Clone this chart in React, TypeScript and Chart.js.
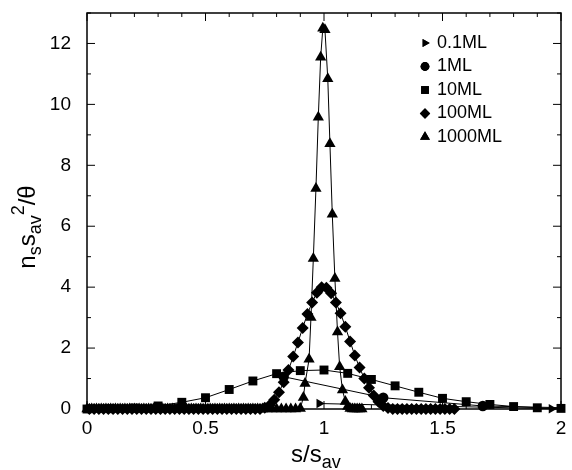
import React, { useEffect, useRef } from 'react';
import { Chart, registerables } from 'chart.js';
import type { Plugin } from 'chart.js';
import { drawPoint } from 'chart.js/helpers';

Chart.register(...registerables);

const FONT = "'Liberation Sans', Arial, Helvetica, sans-serif";

// series data (x = s/s_av, y = n_s s_av^2 / theta)
const seriesNames = ['0.1ML', '1ML', '10ML', '100ML', '1000ML'];

const x01 = [0.98, 1.96];
const y01 = [0.18, 0.01];

const x1 = [0.83, 1.25, 1.67, 2.08];
const y1 = [1.06, 0.37, 0.1, 0.03];

const x10 = [0, 0.1, 0.2, 0.3, 0.4, 0.5, 0.6, 0.7, 0.8, 0.9, 1.0, 1.1, 1.2, 1.3, 1.4, 1.5, 1.6, 1.7, 1.8, 1.9, 2.0];
const y10 = [0, 0.01, 0.03, 0.1, 0.22, 0.37, 0.64, 0.92, 1.16, 1.26, 1.28, 1.17, 0.97, 0.76, 0.55, 0.35, 0.24, 0.15, 0.08, 0.04, 0.02];

const x100 = [
  0.01, 0.03, 0.05, 0.07, 0.09, 0.11, 0.13, 0.15, 0.17, 0.19, 0.21, 0.23, 0.25, 0.27, 0.29, 0.31, 0.33, 0.35,
  0.37, 0.39, 0.41, 0.43, 0.45, 0.47, 0.49, 0.51, 0.53, 0.55, 0.57, 0.59, 0.61, 0.63, 0.65, 0.67, 0.69, 0.71, 0.73,
  0.75, 0.77, 0.79, 0.81, 0.83, 0.85, 0.87, 0.89, 0.91, 0.93, 0.95, 0.97, 0.99,
  1.01, 1.03, 1.05, 1.07, 1.09, 1.11, 1.13, 1.15, 1.17, 1.19, 1.21, 1.23, 1.25, 1.27,
  1.29, 1.31, 1.33, 1.35, 1.37, 1.39, 1.41, 1.43, 1.45, 1.47, 1.49, 1.51, 1.53, 1.55,
];
const y100 = [
  0, 0, 0, 0, 0, 0, 0, 0, 0, 0, 0, 0, 0, 0, 0, 0, 0, 0,
  0, 0, 0, 0, 0, 0, 0, 0, 0, 0, 0, 0, 0, 0, 0, 0, 0, 0, 0,
  0.04, 0.12, 0.3, 0.55, 0.88, 1.28, 1.72, 2.18, 2.66, 3.12, 3.5, 3.82, 4.0,
  3.98, 3.8, 3.5, 3.14, 2.7, 2.22, 1.76, 1.36, 1.0, 0.7, 0.44, 0.24, 0.1, 0.03,
  0, 0, 0, 0, 0, 0, 0, 0, 0, 0, 0, 0, 0, 0,
];

const x1000 = [
  0, 0.02, 0.04, 0.06, 0.08, 0.1, 0.12, 0.14, 0.16, 0.18, 0.2, 0.22, 0.24, 0.26, 0.28, 0.3, 0.32, 0.34, 0.36,
  0.38, 0.4, 0.42, 0.44, 0.46, 0.48, 0.5, 0.52, 0.54, 0.56, 0.58, 0.6, 0.62, 0.64, 0.66, 0.68, 0.7, 0.72,
  0.74, 0.76, 0.78, 0.8, 0.82, 0.84, 0.86, 0.88, 0.9,
  0.913, 0.92, 0.937, 0.945, 0.955, 0.966, 0.976, 0.986, 0.995, 1.004,
  1.016, 1.025, 1.035, 1.046, 1.057, 1.066, 1.078, 1.09, 1.1, 1.11,
  1.12, 1.13, 1.14, 1.15, 1.16,
];
const y1000 = [
  0, 0, 0, 0, 0, 0, 0, 0, 0, 0, 0, 0, 0, 0, 0, 0, 0, 0, 0,
  0, 0, 0, 0, 0, 0, 0, 0, 0, 0, 0, 0, 0, 0, 0, 0, 0, 0,
  0, 0, 0, 0, 0, 0, 0, 0, 0.02,
  0.38, 0.84, 1.63, 3.0, 4.94, 7.24, 9.58, 11.55, 12.5, 12.45,
  10.84, 8.71, 6.39, 4.28, 2.53, 1.39, 0.62, 0.25, 0.08, 0.02,
  0, 0, 0, 0, 0,
];

// axis ticks
const xMajor = [0, 0.5, 1, 1.5, 2];
const xMinor = [0.1, 0.2, 0.3, 0.4, 0.6, 0.7, 0.8, 0.9, 1.1, 1.2, 1.3, 1.4, 1.6, 1.7, 1.8, 1.9];
const yMajor = [0, 2, 4, 6, 8, 10, 12];
const yMinor = [1, 3, 5, 7, 9, 11, 13];

const markers = [
  { style: 'triangle', rotation: 90, radius: 5.5 },
  { style: 'circle', rotation: 0, radius: 5.2 },
  { style: 'rect', rotation: 0, radius: 6.3 },
  { style: 'rectRot', rotation: 0, radius: 6 },
  { style: 'triangle', rotation: 0, radius: 6.5 },
];

const pts = (xs: number[], ys: number[]) => xs.map((x, i) => ({ x, y: ys[i] }));

type Part = { t: string; size: number; dy: number };

const drawParts = (ctx: CanvasRenderingContext2D, parts: Part[], x: number, y: number, center: boolean) => {
  let total = 0;
  parts.forEach((p) => {
    ctx.font = `${p.size}px ${FONT}`;
    total += ctx.measureText(p.t).width;
  });
  let cx = center ? x - total / 2 : x;
  parts.forEach((p) => {
    ctx.font = `${p.size}px ${FONT}`;
    ctx.fillText(p.t, cx, y + p.dy);
    cx += ctx.measureText(p.t).width;
  });
};

const framePlugin: Plugin = {
  id: 'frame',
  afterDraw(chart) {
    const { ctx, chartArea: a, scales } = chart;
    const xs = scales.x;
    const ys = scales.y;
    ctx.save();
    ctx.strokeStyle = '#000';
    ctx.lineWidth = 1.5;
    ctx.strokeRect(a.left, a.top, a.right - a.left, a.bottom - a.top);

    ctx.lineWidth = 1;
    ctx.beginPath();
    const tickX = (v: number, len: number) => {
      const px = xs.getPixelForValue(v);
      ctx.moveTo(px, a.bottom);
      ctx.lineTo(px, a.bottom - len);
      ctx.moveTo(px, a.top);
      ctx.lineTo(px, a.top + len);
    };
    const tickY = (v: number, len: number) => {
      const py = ys.getPixelForValue(v);
      ctx.moveTo(a.left, py);
      ctx.lineTo(a.left + len, py);
      ctx.moveTo(a.right, py);
      ctx.lineTo(a.right - len, py);
    };
    xMajor.forEach((v) => tickX(v, 8));
    xMinor.forEach((v) => tickX(v, 4));
    yMajor.forEach((v) => tickY(v, 8));
    yMinor.forEach((v) => tickY(v, 4));
    ctx.stroke();

    // legend
    ctx.fillStyle = '#000';
    ctx.textBaseline = 'middle';
    ctx.textAlign = 'left';
    ctx.font = `18px ${FONT}`;
    const rows = [43, 66.5, 90, 113.5, 137];
    seriesNames.forEach((name, i) => {
      const m = markers[i];
      drawPoint(
        ctx,
        { pointStyle: m.style as any, rotation: m.rotation, radius: m.radius - 0.8, borderWidth: 0 },
        425,
        rows[i]
      );
      ctx.fill();
      ctx.fillText(name, 437, rows[i]);
    });

    // axis titles
    ctx.textBaseline = 'alphabetic';
    drawParts(
      ctx,
      [
        { t: 's/s', size: 24, dy: 0 },
        { t: 'av', size: 18, dy: 6 },
      ],
      291,
      462,
      false
    );
    ctx.translate(35, 227);
    ctx.rotate(-Math.PI / 2);
    drawParts(
      ctx,
      [
        { t: 'n', size: 24, dy: 0 },
        { t: 's', size: 18, dy: 6 },
        { t: 's', size: 24, dy: 0 },
        { t: 'av', size: 18, dy: 6 },
        { t: '2', size: 18, dy: -11 },
        { t: '/θ', size: 24, dy: 0 },
      ],
      0,
      0,
      true
    );
    ctx.restore();
  },
};

const App: React.FC = () => {
  const canvasRef = useRef<HTMLCanvasElement | null>(null);

  useEffect(() => {
    if (!canvasRef.current) return;
    const data = [pts(x01, y01), pts(x1, y1), pts(x10, y10), pts(x100, y100), pts(x1000, y1000)];

    const chart = new Chart(canvasRef.current, {
      type: 'scatter',
      data: {
        datasets: seriesNames.map((name, i) => ({
          label: name,
          data: data[i],
          showLine: true,
          borderColor: '#000',
          borderWidth: 1,
          backgroundColor: '#000',
          pointStyle: markers[i].style as any,
          rotation: markers[i].rotation,
          pointRadius: markers[i].radius,
          pointBorderWidth: 0,
          pointBackgroundColor: '#000',
          // markers sit over the frame like in the original; the 1ML line is cut at x = 2
          clip: i === 1 ? { left: 8, top: 0, right: 0, bottom: 8 } : 8,
        })),
      },
      options: {
        animation: false,
        responsive: false,
        devicePixelRatio: 1,
        layout: { autoPadding: false, padding: { top: 13, right: 11, left: 0, bottom: 0 } },
        plugins: { legend: { display: false }, tooltip: { enabled: false } },
        scales: {
          x: {
            type: 'linear',
            min: 0,
            max: 2,
            grid: { display: false, drawTicks: false },
            border: { display: false },
            afterBuildTicks: (scale) => {
              scale.ticks = xMajor.map((v) => ({ value: v }));
            },
            afterFit: (scale) => {
              scale.height = 61;
              scale.paddingLeft = 0;
              scale.paddingRight = 0;
            },
            ticks: {
              padding: 8,
              color: '#000',
              maxRotation: 0,
              font: { family: FONT, size: 19 },
              callback: (v) => String(v),
            },
          },
          y: {
            type: 'linear',
            min: 0,
            max: 13,
            grid: { display: false, drawTicks: false },
            border: { display: false },
            afterBuildTicks: (scale) => {
              scale.ticks = yMajor.map((v) => ({ value: v }));
            },
            afterFit: (scale) => {
              scale.width = 87;
              scale.paddingTop = 0;
              scale.paddingBottom = 0;
            },
            ticks: {
              padding: 16,
              color: '#000',
              font: { family: FONT, size: 19 },
              callback: (v) => String(v),
            },
          },
        },
      },
      plugins: [framePlugin],
    });

    return () => {
      chart.destroy();
    };
  }, []);

  return (
    <div style={{ position: 'absolute', left: 0, top: 0, width: 572, height: 470, background: '#fff' }}>
      <canvas ref={canvasRef} width={572} height={470}></canvas>
    </div>
  );
};

export default App;
